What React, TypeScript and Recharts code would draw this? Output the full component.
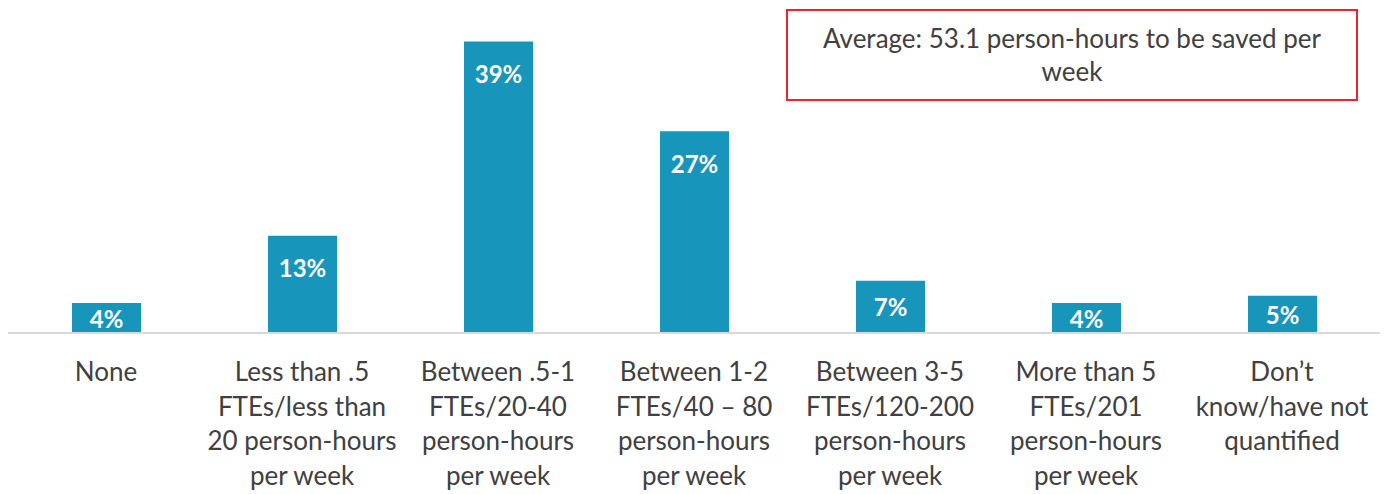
import { BarChart, Bar, XAxis, YAxis, LabelList } from "recharts";

const categories = [
  "None",
  "Less than .5\nFTEs/less than\n20 person-hours\nper week",
  "Between .5-1\nFTEs/20-40\nperson-hours\nper week",
  "Between 1-2\nFTEs/40 – 80\nperson-hours\nper week",
  "Between 3-5\nFTEs/120-200\nperson-hours\nper week",
  "More than 5\nFTEs/201\nperson-hours\nper week",
  "Don’t\nknow/have not\nquantified",
];
const shares = [4, 13, 39, 27, 7, 4, 5];
const noteLines = ["Average: 53.1 person-hours to be saved per", "week"];

const FONT = "Lato, 'Open Sans', sans-serif";
const TEXT = "#404040";
const BAR = "#1795BA";

const data = categories.map((c, i) => ({ name: c, value: shares[i] }));

function CategoryTick(props: any) {
  const { x, y, payload } = props;
  const lines = String(payload.value).split("\n");
  return (
    <text x={x} y={y} textAnchor="middle" fill={TEXT} fontSize={26} fontFamily={FONT}>
      {lines.map((l, i) => (
        <tspan key={i} x={x} dy={i === 0 ? 40 : 34.5}>
          {l}
        </tspan>
      ))}
    </text>
  );
}

function ValueLabel(props: any) {
  const { x, y, width, height, value } = props;
  const cy = y + Math.min(32, height / 2);
  return (
    <text
      x={x + width / 2}
      y={cy}
      textAnchor="middle"
      dominantBaseline="central"
      fill="#ffffff"
      fontSize={24}
      fontWeight={700}
      fontFamily={FONT}
    >
      {value}%
    </text>
  );
}

export default function App() {
  return (
    <div style={{ position: "absolute", left: 0, top: 0, width: 1385, height: 494, background: "#fff" }}>
      <BarChart
        width={1385}
        height={494}
        data={data}
        margin={{ top: 34, right: 5, left: 8, bottom: 6 }}
        barCategoryGap={0}
      >
        <XAxis
          dataKey="name"
          interval={0}
          height={155}
          tickLine={false}
          axisLine={{ stroke: "#d9d9d9", strokeWidth: 2 }}
          tick={<CategoryTick />}
        />
        <YAxis hide domain={[0, 40]} />
        <Bar dataKey="value" fill={BAR} barSize={69} isAnimationActive={false}>
          <LabelList dataKey="value" content={<ValueLabel />} />
        </Bar>
      </BarChart>
      <div
        style={{
          position: "absolute",
          left: 786,
          top: 9,
          width: 572,
          height: 92,
          boxSizing: "border-box",
          border: "2px solid #e8262b",
          display: "flex",
          flexDirection: "column",
          alignItems: "center",
          justifyContent: "center",
          fontFamily: FONT,
          fontSize: 26,
          color: TEXT,
          lineHeight: "33px",
          textAlign: "center",
        }}
      >
        {noteLines.map((l, i) => (
          <div key={i}>{l}</div>
        ))}
      </div>
    </div>
  );
}
